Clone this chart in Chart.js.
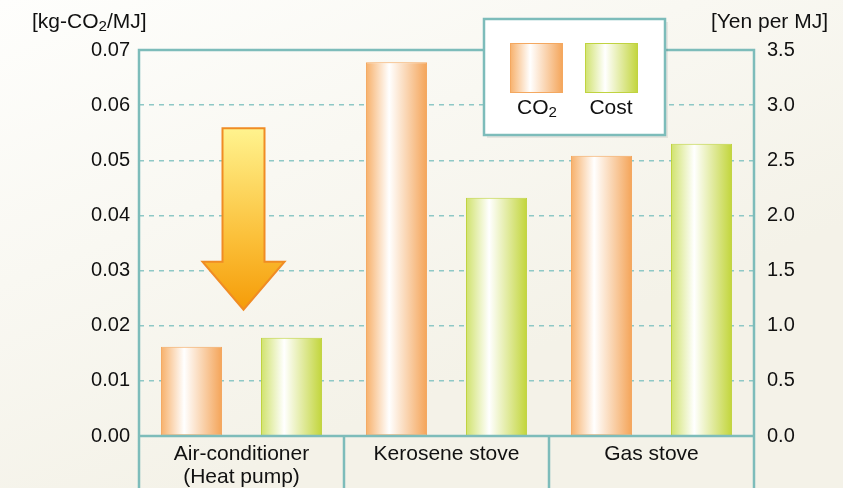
<!DOCTYPE html>
<html>
<head>
    <title>CO2 and cost per MJ</title>
    <script src="https://cdn.jsdelivr.net/npm/chart.js"></script>
    <style>
        html, body { margin: 0; padding: 0; background: #f6f4ec; }
        #wrap { width: 843px; height: 488px; }
    </style>
</head>
<body>
    <div id="wrap"><canvas id="heatChart" width="843" height="488"></canvas></div>

    <script>
        // values
        const categories = [['Air-conditioner', '(Heat pump)'], 'Kerosene stove', 'Gas stove'];
        const co2Values = [0.0162, 0.0678, 0.0508];   // kg-CO2/MJ, left axis
        const costValues = [0.89, 2.16, 2.65];       // Yen per MJ, right axis
        const arrowFrom = 0.0558;                    // arrow top, left-axis units
        const arrowTo = 0.0229;                      // arrow tip

        const teal = '#7dbcba';
        const font = '"Liberation Sans", Arial, sans-serif';

        // draws text where a "2" is a subscript
        function drawSubText(ctx, parts, x, y, size, align) {
            let total = 0;
            parts.forEach(p => {
                ctx.font = (p.sub ? size * 0.72 : size) + 'px ' + font;
                total += ctx.measureText(p.t).width;
            });
            let cx = align === 'center' ? x - total / 2 : (align === 'right' ? x - total : x);
            ctx.textAlign = 'left';
            ctx.textBaseline = 'alphabetic';
            parts.forEach(p => {
                ctx.font = (p.sub ? size * 0.72 : size) + 'px ' + font;
                ctx.fillText(p.t, cx, p.sub ? y + size * 0.14 : y);
                cx += ctx.measureText(p.t).width;
            });
        }

        function barGradient(ctx, left, right, edgeL, edgeR) {
            const g = ctx.createLinearGradient(left, 0, right, 0);
            g.addColorStop(0, edgeL);
            g.addColorStop(0.38, '#ffffff');
            g.addColorStop(1, edgeR);
            return g;
        }

        const barEdges = [['#f7b06a', '#f4a458'], ['#d0e26c', '#c2d53a']];

        const decorPlugin = {
            id: 'decor',
            beforeDraw(chart) {
                const ctx = chart.ctx;
                const g = ctx.createLinearGradient(0, 0, 200, chart.height);
                g.addColorStop(0, '#fefefc');
                g.addColorStop(1, '#f4f2e8');
                ctx.save();
                ctx.fillStyle = g;
                ctx.fillRect(0, 0, chart.width, chart.height);
                ctx.restore();
            },
            beforeDatasetsDraw(chart) {
                const ctx = chart.ctx;
                chart.data.datasets.forEach((ds, di) => {
                    chart.getDatasetMeta(di).data.forEach(bar => {
                        const l = bar.x - bar.width / 2, r = bar.x + bar.width / 2;
                        bar.options.backgroundColor = barGradient(ctx, l, r, barEdges[di][0], barEdges[di][1]);
                    });
                });
            },
            afterDraw(chart) {
                const ctx = chart.ctx;
                const a = chart.chartArea;
                const x = chart.scales.x;
                const y = chart.scales.y;
                ctx.save();

                // frame and category separators
                ctx.strokeStyle = teal;
                ctx.lineWidth = 2.5;
                ctx.beginPath();
                ctx.moveTo(a.left, chart.height);
                ctx.lineTo(a.left, a.top);
                ctx.lineTo(a.right, a.top);
                ctx.lineTo(a.right, chart.height);
                ctx.moveTo(a.left, a.bottom);
                ctx.lineTo(a.right, a.bottom);
                const n = categories.length;
                for (let i = 1; i < n; i++) {
                    const sx = a.left + (a.right - a.left) * i / n;
                    ctx.moveTo(sx, a.bottom);
                    ctx.lineTo(sx, chart.height);
                }
                ctx.stroke();

                // arrow over the first category
                const cx = x.getPixelForValue(0) + 2;
                const top = y.getPixelForValue(arrowFrom);
                const tip = y.getPixelForValue(arrowTo);
                const headTop = tip - 48;
                const sw = 21, hw = 41;
                const ag = ctx.createLinearGradient(0, top, 0, tip);
                ag.addColorStop(0, '#fff38e');
                ag.addColorStop(0.6, '#fbc03a');
                ag.addColorStop(1, '#f59c08');
                ctx.beginPath();
                ctx.moveTo(cx - sw, top);
                ctx.lineTo(cx + sw, top);
                ctx.lineTo(cx + sw, headTop);
                ctx.lineTo(cx + hw, headTop);
                ctx.lineTo(cx, tip);
                ctx.lineTo(cx - hw, headTop);
                ctx.lineTo(cx - sw, headTop);
                ctx.closePath();
                ctx.fillStyle = ag;
                ctx.fill();
                ctx.strokeStyle = '#f08c24';
                ctx.lineWidth = 2;
                ctx.lineJoin = 'miter';
                ctx.stroke();

                // legend box
                ctx.fillStyle = 'rgba(0,0,0,0.07)';
                ctx.fillRect(487, 22, 181, 116);
                ctx.fillStyle = '#ffffff';
                ctx.fillRect(484, 19, 181, 116);
                ctx.strokeStyle = teal;
                ctx.lineWidth = 2.5;
                ctx.strokeRect(484, 19, 181, 116);
                ctx.fillStyle = barGradient(ctx, 510, 563, barEdges[0][0], barEdges[0][1]);
                ctx.fillRect(510, 43, 53, 50);
                ctx.strokeStyle = '#f4a860';
                ctx.lineWidth = 1;
                ctx.strokeRect(510.5, 43.5, 52, 49);
                ctx.fillStyle = barGradient(ctx, 585, 638, barEdges[1][0], barEdges[1][1]);
                ctx.fillRect(585, 43, 53, 50);
                ctx.strokeStyle = '#c0d340';
                ctx.strokeRect(585.5, 43.5, 52, 49);
                ctx.fillStyle = '#111';
                drawSubText(ctx, [{t: 'CO'}, {t: '2', sub: true}], 537, 114, 21, 'center');
                drawSubText(ctx, [{t: 'Cost'}], 611, 114, 21, 'center');

                // axis titles
                drawSubText(ctx, [{t: '[kg-CO'}, {t: '2', sub: true}, {t: '/MJ]'}], 32, 28, 21, 'left');
                drawSubText(ctx, [{t: '[Yen per MJ]'}], 828, 28, 21, 'right');
                ctx.restore();
            }
        };

        function createChart() {
            const ctx = document.getElementById('heatChart').getContext('2d');
            new Chart(ctx, {
                type: 'bar',
                data: {
                    labels: categories,
                    datasets: [{
                        label: 'CO2',
                        data: co2Values,
                        yAxisID: 'y',
                        // a function keeps the options per bar, so each gets its own gradient
                        backgroundColor: () => barEdges[0][0],
                        borderColor: '#f4a860',
                        borderWidth: 1,
                        borderSkipped: false,
                        categoryPercentage: 0.976,
                        barPercentage: 0.61
                    }, {
                        label: 'Cost',
                        data: costValues,
                        yAxisID: 'y1',
                        backgroundColor: () => barEdges[1][1],
                        borderColor: '#c0d340',
                        borderWidth: 1,
                        borderSkipped: false,
                        categoryPercentage: 0.976,
                        barPercentage: 0.61
                    }]
                },
                options: {
                    responsive: false,
                    animation: false,
                    layout: { padding: { top: 50, left: 0, right: 0, bottom: 0 } },
                    plugins: {
                        legend: { display: false },
                        tooltip: { enabled: false }
                    },
                    scales: {
                        x: {
                            grid: { display: false, drawTicks: false },
                            border: { display: false },
                            ticks: {
                                color: '#111',
                                font: { family: font, size: 21, lineHeight: 1.1 },
                                padding: 7,
                                maxRotation: 0
                            },
                            afterFit: s => { s.height = 52; }
                        },
                        y: {
                            position: 'left',
                            min: 0,
                            max: 0.07,
                            border: { display: false, dash: [5, 5] },
                            grid: {
                                color: '#8ec8c6',
                                lineWidth: 1.5,
                                drawTicks: false
                            },
                            ticks: {
                                stepSize: 0.01,
                                color: '#111',
                                font: { family: font, size: 20 },
                                padding: 9,
                                callback: v => v.toFixed(2)
                            },
                            afterFit: s => { s.width = 139; }
                        },
                        y1: {
                            position: 'right',
                            min: 0,
                            max: 3.5,
                            border: { display: false },
                            grid: { display: false, drawTicks: false },
                            ticks: {
                                stepSize: 0.5,
                                color: '#111',
                                font: { family: font, size: 20 },
                                padding: 13,
                                callback: v => v.toFixed(1)
                            },
                            afterFit: s => { s.width = 89; }
                        }
                    }
                },
                plugins: [decorPlugin]
            });
        }

        window.onload = createChart;
    </script>
</body>
</html>
